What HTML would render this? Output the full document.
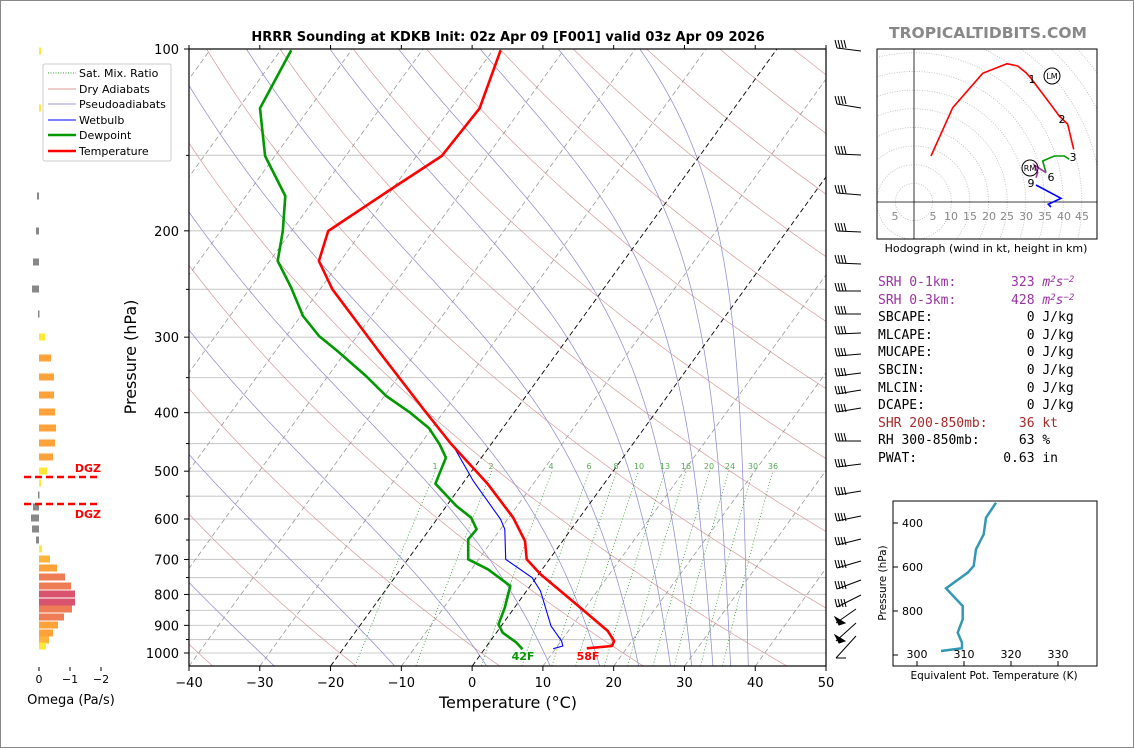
<!DOCTYPE html>
<html><head><meta charset="utf-8"><style>
html,body{margin:0;padding:0;background:#fff;}
#wrap{position:relative;width:1134px;height:748px;overflow:hidden;box-sizing:border-box;border:1px solid #888;}
svg{position:absolute;left:0;top:0;}
.t{font-family:"DejaVu Sans","Liberation Sans",sans-serif;}
#info{position:absolute;left:877px;top:273px;font-family:"DejaVu Sans Mono","Liberation Mono",monospace;font-size:13px;color:#000;}
#info div{height:17.6px;line-height:17.6px;white-space:pre;}
#info sup{font-size:9px;line-height:0;vertical-align:4px;}
</style></head><body><div id="wrap">
<svg id="s" width="1134" height="748" viewBox="0 0 1134 748" xmlns="http://www.w3.org/2000/svg">
<defs><clipPath id="cp"><rect x="188" y="48" width="637" height="617"/></clipPath>
<clipPath id="hc"><rect x="876" y="48" width="220" height="190"/></clipPath></defs>
<text class="t" x="507" y="40" font-size="13" font-weight="bold" text-anchor="middle">HRRR Sounding at KDKB Init: 02z Apr 09 [F001] valid 03z Apr 09 2026</text>
<text class="t" x="987" y="37" font-size="15.5" font-weight="bold" fill="#888" text-anchor="middle">TROPICALTIDBITS.COM</text>
<g id="bg" clip-path="url(#cp)"></g>
<g id="prof" clip-path="url(#cp)">
<polyline fill="none" stroke="#00f" stroke-width="1.1" points="499.6,49.3 478.6,107.3 440.7,155 390.3,188 327.2,230 317.9,260 331.4,288.3 377.6,350 423.9,410 453.3,446.7 472.3,480 499.6,518.3 503.8,528.3 504.7,558.3 531.1,576.7 539.5,590 550,625 560.6,640 561.8,645 552.2,647.7"/>
<polyline fill="none" stroke="#090" stroke-width="2.6" stroke-linejoin="round" points="290.2,49.3 259,107.3 264.1,155 284.3,195 281.8,230 276.7,260 290.2,286.7 302,315 318,335 336.4,350 365,375 385.2,395 409.2,411.7 428.1,427.3 438.6,443.3 444.9,456.7 434.4,482.7 455.4,505 470.2,516.7 475.6,528.3 467.2,538.3 467.2,558.3 487,568.3 509.3,585 503.8,606.7 497.5,623.3 501.7,631.7 515.6,641.7 521.5,648.3"/>
<polyline fill="none" stroke="#f00" stroke-width="2.6" stroke-linejoin="round" points="499.6,49.3 478.6,107.3 440.7,155 390.3,188 327.2,230 317.9,260 331.4,288.3 377.6,350 423.9,410 449.1,441.7 487,483.3 512.2,516.7 524,540 525.7,558.3 539.5,573.3 575.3,603.3 606.8,630 613.1,640 611,645 585.8,647.3"/>
</g>
<text class="t" x="522" y="659" font-size="11" font-weight="bold" fill="#090" text-anchor="middle">42F</text>
<text class="t" x="587" y="659" font-size="11" font-weight="bold" fill="#f00" text-anchor="middle">58F</text>
<g id="mrl" class="t" font-size="8" fill="#5a5" text-anchor="middle">
<text x="434" y="468">1</text><text x="490" y="468">2</text><text x="550" y="468">4</text><text x="588" y="468">6</text><text x="615" y="468">8</text><text x="638" y="468">10</text><text x="664" y="468">13</text><text x="685" y="468">16</text><text x="708" y="468">20</text><text x="729" y="468">24</text><text x="752" y="468">30</text><text x="772" y="468">36</text></g>
<rect x="188" y="48" width="637" height="617" fill="none" stroke="#000" stroke-width="1.2"/>
<g id="axes" class="t"></g>
<text class="t" x="507" y="707" font-size="16" text-anchor="middle">Temperature (°C)</text>
<text class="t" font-size="16" text-anchor="middle" transform="translate(135,356) rotate(-90)">Pressure (hPa)</text>
<g class="t" font-size="11">
<rect x="42" y="63" width="128" height="97" fill="#fff" stroke="#ccc" rx="2"/>
<line x1="47" y1="72" x2="75" y2="72" stroke="#393" stroke-dasharray="1,1.5"/><text x="78" y="76">Sat. Mix. Ratio</text>
<line x1="47" y1="88" x2="75" y2="88" stroke="#d99"/><text x="78" y="92">Dry Adiabats</text>
<line x1="47" y1="103" x2="75" y2="103" stroke="#99c"/><text x="78" y="107">Pseudoadiabats</text>
<line x1="47" y1="119" x2="75" y2="119" stroke="#00f"/><text x="78" y="123">Wetbulb</text>
<line x1="47" y1="134" x2="75" y2="134" stroke="#090" stroke-width="2.5"/><text x="78" y="138">Dewpoint</text>
<line x1="47" y1="150" x2="75" y2="150" stroke="#f00" stroke-width="2.5"/><text x="78" y="154">Temperature</text>
</g>
<g id="om"></g>
<g stroke="#f00" stroke-width="2.5" stroke-dasharray="7,4"><line x1="23" y1="476" x2="98" y2="476"/><line x1="23" y1="503" x2="98" y2="503"/></g>
<text class="t" x="100" y="471" font-size="11" font-weight="bold" fill="#f00" text-anchor="end">DGZ</text>
<text class="t" x="100" y="517" font-size="11" font-weight="bold" fill="#f00" text-anchor="end">DGZ</text>
<g stroke="#000"><line x1="38" y1="666" x2="38" y2="670"/><line x1="69" y1="666" x2="69" y2="670"/><line x1="100" y1="666" x2="100" y2="670"/></g>
<g class="t" font-size="11" text-anchor="middle"><text x="38" y="682">0</text><text x="69" y="682">−1</text><text x="100" y="682">−2</text></g>
<text class="t" x="70" y="703" font-size="13" text-anchor="middle">Omega (Pa/s)</text>
<g id="barbs" stroke="#000" stroke-width="1" fill="#000"></g>
<g id="hodo" clip-path="url(#hc)"></g>
<rect x="876" y="48" width="220" height="190" fill="none" stroke="#000"/>
<g class="t" font-size="11" fill="#888" text-anchor="middle">
<text x="894" y="219">5</text><text x="932" y="219">5</text><text x="950" y="219">10</text><text x="969" y="219">15</text><text x="988" y="219">20</text><text x="1006" y="219">25</text><text x="1025" y="219">30</text><text x="1044" y="219">35</text><text x="1063" y="219">40</text><text x="1081" y="219">45</text></g>
<text class="t" x="985" y="251" font-size="11" text-anchor="middle">Hodograph (wind in kt, height in km)</text>
<rect x="892" y="500" width="204" height="165" fill="none" stroke="#000"/>
<polyline fill="none" stroke="#3399b3" stroke-width="2.5" points="995,501.7 985,516.7 982.7,533.3 975,548.3 972.7,565 966.7,571.7 945,587.3 961.7,605 961.7,618.3 956.7,631.7 961,641.7 961,647.3 940,650"/>
<g stroke="#000"><line x1="892" y1="522" x2="897" y2="522"/><line x1="892" y1="566" x2="897" y2="566"/><line x1="892" y1="610" x2="897" y2="610"/><line x1="892" y1="654" x2="897" y2="654"/>
<line x1="916" y1="665" x2="916" y2="660"/><line x1="963" y1="665" x2="963" y2="660"/><line x1="1010" y1="665" x2="1010" y2="660"/><line x1="1057" y1="665" x2="1057" y2="660"/></g>
<g class="t" font-size="11"><text x="901" y="526">400</text><text x="901" y="570">600</text><text x="901" y="614">800</text>
<text x="916" y="657" text-anchor="middle">300</text><text x="963" y="657" text-anchor="middle">310</text><text x="1010" y="657" text-anchor="middle">320</text><text x="1057" y="657" text-anchor="middle">330</text></g>
<text class="t" font-size="10.5" text-anchor="middle" transform="translate(885,582) rotate(-90)">Pressure (hPa)</text>
<text class="t" x="993" y="678" font-size="10.5" text-anchor="middle">Equivalent Pot. Temperature (K)</text>
</svg>
<div id="info"><div style="color:#9933a0">SRH 0-1km:       323 <i>m<sup>2</sup>s<sup>−2</sup></i></div><div style="color:#9933a0">SRH 0-3km:       428 <i>m<sup>2</sup>s<sup>−2</sup></i></div><div>SBCAPE:            0 J/kg</div><div>MLCAPE:            0 J/kg</div><div>MUCAPE:            0 J/kg</div><div>SBCIN:             0 J/kg</div><div>MLCIN:             0 J/kg</div><div>DCAPE:             0 J/kg</div><div style="color:#a52a2a">SHR 200-850mb:    36 kt</div><div>RH 300-850mb:     63 %</div><div>PWAT:           0.63 in</div></div>
</div>
<script>
(function(){
var NS='http://www.w3.org/2000/svg';
function Y(p){return 48+604*Math.log10(p/100);}
function X(T,p){return 188+(T+40)*7.078+(665-Y(p))*0.7235;}
function el(par,tag,a){var e=document.createElementNS(NS,tag);for(var k in a)e.setAttribute(k,a[k]);par.appendChild(e);return e;}
function poly(par,pts,a){a.points=pts.map(function(q){return q[0].toFixed(1)+','+q[1].toFixed(1);}).join(' ');a.fill='none';return el(par,'polyline',a);}
var bg=document.getElementById('bg');
[150,200,250,300,350,400,450,500,550,600,650,700,750,800,850,900,950,1000].forEach(function(p){el(bg,'line',{x1:188,x2:825,y1:Y(p),y2:Y(p),stroke:'#ccc','stroke-width':1.1});});
for(var t0=-80;t0<=220;t0+=20){var th=t0+273.15;var pts=[];for(var p=1050;p>=100;p-=10){pts.push([X(th*Math.pow(p/1000,0.2857)-273.15,p),Y(p)]);}poly(bg,pts,{stroke:'#d08888','stroke-width':0.7,opacity:0.85});}
var Rd=287.04,Cp=1005.7,Lv=2.501e6,eps=0.622;
function es(Tc){return 6.112*Math.exp(17.67*Tc/(Tc+243.5));}
[-28,-11,2,11,18,23.5,28,31,34,36.5,39].forEach(function(T0){var T=T0+273.15,pts=[];for(var p=1050;p>=100;p-=2){pts.push([X(T-273.15,p),Y(p)]);var e=es(T-273.15),rs=eps*e/(p-e);var d=(Rd*T+Lv*rs)/(p*(Cp+Lv*Lv*rs*eps/(Rd*T*T)));T-=2*d;}poly(bg,pts,{stroke:'#8f8fd0','stroke-width':0.75});});
[1,2,4,6,8,10,13,16,20,24,30,36].forEach(function(w){var pts=[];for(var p=1050;p>=500;p-=10){var e=w*p/(622+w),l=Math.log(e/6.112),Td=243.5*l/(17.67-l);pts.push([X(Td,p),Y(p)]);}poly(bg,pts,{stroke:'#339933','stroke-width':0.8,'stroke-dasharray':'1,2.2'});});
for(var T=-130;T<=50;T+=10){var blk=(T==0||T==-20);el(bg,'line',{x1:X(T,1050),y1:665,x2:X(T,100),y2:48,stroke:blk?'#000':'#999','stroke-width':blk?0.9:0.8,'stroke-dasharray':'5,3'});}
var ax=document.getElementById('axes');
[100,200,300,400,500,600,700,800,900,1000].forEach(function(p){el(ax,'line',{x1:183,x2:188,y1:Y(p),y2:Y(p),stroke:'#000'});var t=el(ax,'text',{x:178,y:Y(p)+5,'font-size':13,'text-anchor':'end'});t.textContent=p;});
[150,250,350,450,550,650,750,850,950].forEach(function(p){el(ax,'line',{x1:185,x2:188,y1:Y(p),y2:Y(p),stroke:'#000'});});
for(var i=0;i<=9;i++){var x=188+i*70.78;el(ax,'line',{x1:x,x2:x,y1:665,y2:670,stroke:'#000'});el(ax,'line',{x1:x,x2:x,y1:48,y2:44,stroke:'#000'});var t=el(ax,'text',{x:x,y:686,'font-size':13,'text-anchor':'middle'});t.textContent=(i*10-40).toString().replace('-','−');}
var om=document.getElementById('om');
var Yc='#ffe833',O='#ffa23a',S='#ee7d55',C='#d9536e',G='#888';
[[50,40,Yc],[107,40,Yc],[195,36,G],[230,35,G],[261,32,G],[288,31,G],[313,37,G],[336,44,Yc],[357,50,O],[376,53,O],[394,53,O],[411,54,O],[427,55,O],[442,54,O],[456,52,O],[470,46,Yc],[482,40,Yc],[494,37,G],[506,32,G],[517,30,G],[528,31,G],[539,35,G],[548,41,Yc],[558,49,'#fdb43a'],[567,56,O],[576,64,S],[585,70,S],[593,74,C],[601,74,C],[608,71,S],[616,63,S],[624,57,O],[632,52,O],[639,48,'#fdb43a'],[645,45,Yc]].forEach(function(b){var x1=Math.min(38,b[1]),w=Math.abs(b[1]-38);el(om,'rect',{x:x1,y:b[0]-3.5,width:Math.max(w,1.5),height:7,fill:b[2]});});
var bb=document.getElementById('barbs');
[[47,3,4],[103,4,4],[153,1,4],[192,2,4],[230,1,4],[262,1,4],[290,0,4],[313,0,4],[333,-1,4],[355,-2,4],[375,-3,4],[393,-4,4],[411,-4,4],[440,0,4],[466,-3,4],[494,-4,4],[520,-5,4],[544,-6,4],[567,-7,4],[588,-9,4],[606,-12,4],[622,-14,0],[640,-18,0],[657,-22,0]].forEach(function(b,i){var y=b[0];
 if(i>=21){el(bb,'line',{x1:835,y1:y,x2:855,y2:y+b[1]});if(i<23){el(bb,'polygon',{points:(834)+','+(y-6)+' '+(844)+','+(y)+' '+(838)+','+(y+2)});}else{el(bb,'line',{x1:835,y1:y,x2:845,y2:y});}return;}
 el(bb,'line',{x1:836,y1:y,x2:860,y2:y+b[1]});for(var k=0;k<b[2];k++){var xx=836+k*3;el(bb,'line',{x1:xx,y1:y,x2:xx-2,y2:y-8});}});
var h=document.getElementById('hodo');var ox=913,oy=201,s=3.73;
for(var r=5;r<=90;r+=5){el(h,'circle',{cx:ox,cy:oy,r:r*s,fill:'none',stroke:'#bbb','stroke-width':0.8,'stroke-dasharray':'1,1.5'});}
el(h,'line',{x1:876,x2:1096,y1:oy,y2:oy,stroke:'#000','stroke-width':0.8});el(h,'line',{x1:ox,x2:ox,y1:48,y2:238,stroke:'#000','stroke-width':0.8});
poly(h,[[930,155],[951.7,106.7],[981.7,72.3],[1006,62.7],[1016.7,65],[1025,71.7],[1030,77.3],[1058.3,115],[1066.7,123.3],[1072.7,148.3]],{stroke:'#f00','stroke-width':1.6});
poly(h,[[1068.3,158.3],[1063.3,155],[1053.3,155],[1041.7,160],[1045,171.7]],{stroke:'#090','stroke-width':1.6});
poly(h,[[1045,171.7],[1033.3,164],[1036.7,171.7],[1035,176.7]],{stroke:'#a3a','stroke-width':1.6});
poly(h,[[1035,184],[1060,197.3],[1047.3,203.3],[1050,206]],{stroke:'#00f','stroke-width':1.6});
el(h,'circle',{cx:1051,cy:75,r:8,fill:'none',stroke:'#000'});el(h,'circle',{cx:1029,cy:167,r:8,fill:'none',stroke:'#000'});
[[1051,78,'LM',8],[1029,170,'RM',8],[1031,82,'1',11],[1061,122,'2',11],[1072,160,'3',11],[1050,180,'6',11],[1030,186,'9',11]].forEach(function(l){var t=el(h,'text',{x:l[0],y:l[1],'font-size':l[3],'text-anchor':'middle','font-family':'DejaVu Sans, sans-serif'});t.textContent=l[2];});
})();
</script>
</body></html>
